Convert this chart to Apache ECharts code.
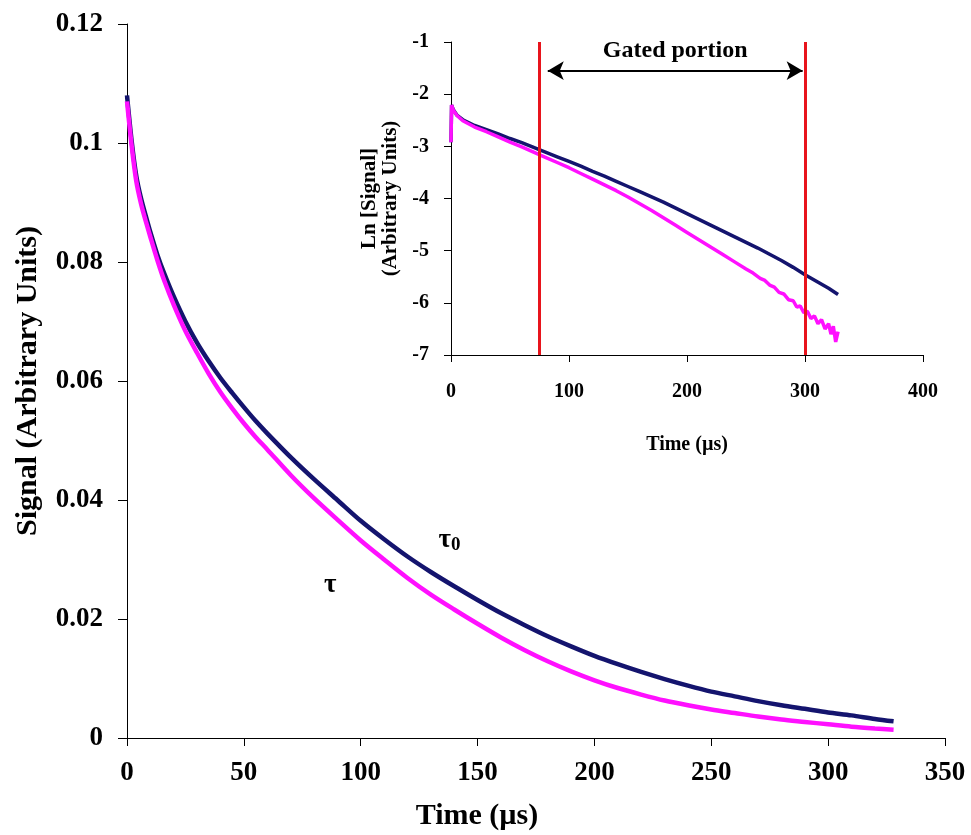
<!DOCTYPE html>
<html><head><meta charset="utf-8">
<script src="https://cdn.jsdelivr.net/npm/echarts@6.0.0/dist/echarts.min.js"></script>
<style>html,body{margin:0;padding:0;background:#fff}#c{width:971px;height:835px}</style>
</head><body><div id="c"></div>
<script>
// ---- Main chart data (Signal vs time) ----
const mainTime = [0,2,4,6,8,10,13,16,20,25,30,35,40,45,50,55,60,70,80,90,100,110,120,130,140,150,160,170,180,190,200,210,220,230,240,250,260,270,280,290,300,310,320,328];
const tau0Signal = [0.108,0.1003,0.0944,0.0907,0.0878,0.0850,0.0812,0.0780,0.0742,0.0700,0.0664,0.0633,0.0605,0.0580,0.0556,0.0533,0.0512,0.0472,0.0435,0.0400,0.0365,0.0334,0.0305,0.0279,0.0255,0.0232,0.0210,0.0190,0.0171,0.0154,0.0138,0.0124,0.0111,0.0099,0.0088,0.0078,0.0070,0.0062,0.0055,0.0049,0.0043,0.0038,0.0032,0.0028];
const tauSignal = [0.107,0.0995,0.0935,0.0898,0.0869,0.0842,0.0803,0.0768,0.0728,0.0684,0.0647,0.0612,0.0581,0.0554,0.0529,0.0506,0.0485,0.0442,0.0403,0.0367,0.0332,0.0300,0.0269,0.0241,0.0216,0.0192,0.0169,0.0148,0.0129,0.0112,0.0097,0.0084,0.0073,0.0063,0.0055,0.0048,0.0042,0.0036,0.0031,0.0027,0.0023,0.0019,0.0016,0.0014];

// ---- Inset data (Ln signal vs time) ----
const insetTau0Time = [0,0.5,2,5,10,20,30,40,50,60,70,80,90,100,110,120,130,140,150,160,170,180,190,200,210,220,230,240,250,260,270,280,290,300,310,320,328];
const insetTau0Ln = [-2.92,-2.21,-2.30,-2.40,-2.49,-2.60,-2.68,-2.76,-2.85,-2.93,-3.02,-3.11,-3.20,-3.29,-3.38,-3.48,-3.57,-3.67,-3.77,-3.87,-3.97,-4.07,-4.18,-4.29,-4.40,-4.51,-4.62,-4.73,-4.84,-4.95,-5.07,-5.19,-5.32,-5.46,-5.59,-5.72,-5.84];
const insetTauTime = [0,0.5,2,5,10,20,30,40,50,60,70,80,90,100,110,120,130,140,150,160,170,180,190,200,210,220,230,240,250,256,262,266,270,274,278,282,286,290,293,296,299,302,305,308,311,314,317,320,322,324,326,328];
const insetTauLn = [-2.92,-2.21,-2.31,-2.41,-2.51,-2.63,-2.72,-2.82,-2.92,-3.01,-3.11,-3.21,-3.31,-3.41,-3.52,-3.63,-3.74,-3.85,-3.97,-4.10,-4.23,-4.37,-4.51,-4.65,-4.79,-4.93,-5.07,-5.21,-5.35,-5.43,-5.53,-5.57,-5.66,-5.70,-5.80,-5.83,-5.94,-5.96,-6.08,-6.06,-6.19,-6.16,-6.30,-6.25,-6.40,-6.32,-6.50,-6.40,-6.60,-6.45,-6.75,-6.55];

// ---- Gate (inset) ----
const gateTimes = [75, 300];
const gateLabel = 'Gated portion';

const FONT = 'Liberation Serif';
const BLUE = '#14146e';
const MAG = '#ff10ff';
const pair = (xs, ys) => xs.map((x, i) => [x, ys[i]]);
const fmt = v => String(parseFloat(Number(v).toFixed(2)));

function axisCommon(fs, margin, tickLen) {
  return {
    axisLine: { show: true, onZero: false, lineStyle: { color: '#000', width: 1 } },
    axisTick: { show: true, length: tickLen, lineStyle: { color: '#000', width: 1 } },
    axisLabel: { fontFamily: FONT, fontWeight: 'bold', fontSize: fs, color: '#000', margin: margin, formatter: fmt },
    splitLine: { show: false }
  };
}

const chart = echarts.init(document.getElementById('c'), null, { renderer: 'canvas' });
chart.setOption({
  animation: false,
  backgroundColor: '#fff',
  grid: [
    { left: 127, top: 24, right: 26, bottom: 97, containLabel: false, outerBoundsMode: 'none' },
    { left: 451, top: 42, right: 48, bottom: 480, containLabel: false, outerBoundsMode: 'none' }
  ],
  xAxis: [
    Object.assign({ gridIndex: 0, type: 'value', min: 0, max: 350, interval: 50,
      name: 'Time (µs)', nameLocation: 'middle', nameGap: 63,
      nameTextStyle: { fontFamily: FONT, fontWeight: 'bold', fontSize: 30, color: '#000', padding: [0, 118, 0, 0] } },
      axisCommon(27, 22, 8)),
    Object.assign({ gridIndex: 1, type: 'value', min: 0, max: 400, interval: 100,
      name: 'Time (µs)', nameLocation: 'middle', nameGap: 80,
      nameTextStyle: { fontFamily: FONT, fontWeight: 'bold', fontSize: 20, color: '#000' } },
      axisCommon(20, 27, 7))
  ],
  yAxis: [
    Object.assign({ gridIndex: 0, type: 'value', min: 0, max: 0.12, interval: 0.02,
      name: 'Signal (Arbitrary Units)', nameLocation: 'middle', nameGap: 84,
      nameTextStyle: { fontFamily: FONT, fontWeight: 'bold', fontSize: 30, color: '#000' } },
      axisCommon(27, 24, 9)),
    Object.assign({ gridIndex: 1, type: 'value', min: -7, max: -1, interval: 1,
      name: 'Ln [Signal]\n(Arbitrary Units)', nameLocation: 'middle', nameGap: 50,
      nameTextStyle: { fontFamily: FONT, fontWeight: 'bold', fontSize: 21, color: '#000', lineHeight: 21 } },
      axisCommon(20, 22, 7))
  ],
  series: [
    {
      type: 'line', xAxisIndex: 0, yAxisIndex: 0, data: pair(mainTime, tau0Signal),
      showSymbol: false, smooth: 0.3, lineStyle: { color: BLUE, width: 4.5 }, itemStyle: { color: BLUE },
      z: 2, silent: true,
      markPoint: {
        symbol: 'circle', symbolSize: 0, silent: true,
        label: { show: true, position: 'inside', color: '#000',
          rich: {
            t: { fontFamily: FONT, fontWeight: 'bold', fontSize: 27, color: '#000' },
            s: { fontFamily: FONT, fontWeight: 'bold', fontSize: 19, color: '#000', padding: [10, 0, 0, 0] }
          } },
        data: [
          { coord: [138, 0.0333], label: { formatter: '{t|τ}{s|0}' } },
          { coord: [87, 0.0257], label: { formatter: '{t|τ}' } }
        ]
      }
    },
    {
      type: 'line', xAxisIndex: 0, yAxisIndex: 0, data: pair(mainTime, tauSignal),
      showSymbol: false, smooth: 0.3, lineStyle: { color: MAG, width: 4.5 }, itemStyle: { color: MAG },
      z: 3, silent: true
    },
    {
      type: 'line', xAxisIndex: 1, yAxisIndex: 1, data: pair(insetTau0Time, insetTau0Ln),
      showSymbol: false, lineStyle: { color: BLUE, width: 3.5 }, itemStyle: { color: BLUE },
      z: 2, silent: true,
      markLine: {
        silent: true, symbol: ['arrow', 'arrow'], symbolSize: [14, 16], z: 6,
        lineStyle: { color: '#000', width: 2, type: 'solid' },
        label: { show: true, position: 'insideMiddleTop', distance: 8, formatter: gateLabel,
          fontFamily: FONT, fontWeight: 'bold', fontSize: 24, color: '#000' },
        data: [[{ coord: [82, -1.55] }, { coord: [298, -1.55] }]]
      }
    },
    {
      type: 'line', xAxisIndex: 1, yAxisIndex: 1, data: pair(insetTauTime, insetTauLn),
      showSymbol: false, lineStyle: { color: MAG, width: 3.5 }, itemStyle: { color: MAG },
      z: 3, silent: true,
      markLine: {
        silent: true, symbol: ['none', 'none'], z: 5,
        lineStyle: { color: '#e8141c', width: 3, type: 'solid' },
        label: { show: false },
        data: gateTimes.map(t => ({ xAxis: t }))
      }
    }
  ]
});
</script>
</body></html>
